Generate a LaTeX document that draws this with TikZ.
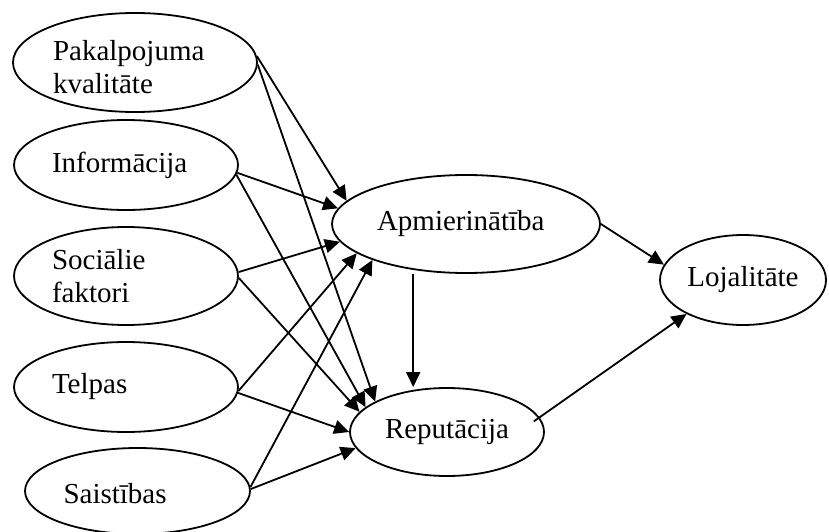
\documentclass[tikz,border=0pt]{standalone}
\usepackage{fontspec}
\setmainfont{Liberation Serif}
\usetikzlibrary{shapes.geometric,arrows.meta}
\begin{document}
\begin{tikzpicture}[x=1pt,y=1pt,
  every node/.style={font=\fontsize{29}{33}\selectfont},
  factor/.style={ellipse,draw,line width=1.8pt,inner sep=0pt},
  caption/.style={inner sep=0pt,align=left},
  link/.style={line width=1.8pt,-{Triangle[length=15pt,width=14pt]}}]
\useasboundingbox (0,0) rectangle (829,-532);

% source factors
\node[factor,minimum width=244pt,minimum height=99pt] (pak) at (135,-62.5) {};
\node[caption,text width=164pt] (pakt) at ([yshift=-5pt]pak.center) {Pakalpojuma\\kvalitāte};
\node[factor,minimum width=224pt,minimum height=90pt,text width=148pt,align=left] (inf) at (126,-165) {Informācija};
\node[factor,minimum width=224pt,minimum height=98pt,text width=148pt,align=left] (soc) at (126,-276) {Sociālie\\faktori};
\node[factor,minimum width=224pt,minimum height=90pt,text width=148pt,align=left] (tel) at (126,-387) {Telpas};
\node[factor,minimum width=225pt,minimum height=86pt] (sai) at (137.5,-491) {};
\node[caption,text width=148pt] (sait) at ([yshift=-3pt]sai.center) {Saistības};

% outcome constructs
\node[factor,minimum width=268pt,minimum height=98pt,text width=178pt,align=left] (apm) at (466,-224) {Apmierinātība};
\node[factor,minimum width=194pt,minimum height=88pt] (rep) at (447,-432) {Reputācija};
\node[factor,minimum width=166pt,minimum height=90pt] (loj) at (743,-280) {Lojalitāte};

% paths into Apmierinātība
\draw[link] (pak.3) -- (apm.169);
\draw[link] (inf.-4) -- (apm.173);
\draw[link] (soc.2) -- (apm.188);
\draw[link] (tel.-2) -- (apm.195);
\draw[link] (sai.2) -- (apm.201);

% paths into Reputācija
\draw[link] (pak.-1) -- (rep.157);
\draw[link] (inf.-5) -- (rep.163);
\draw[link] (soc.-1) -- (rep.167);
\draw[link] (tel.-3) -- (rep.180);
\draw[link] (sai.1) -- (rep.190);

% Apmierinātība -> Reputācija
\draw[link,shorten <=4pt] (apm.221) -- (apm.221 |- rep.north);

% paths into Lojalitāte
\draw[link] (apm.0) -- (loj.169);
\draw[link,shorten <=-7pt] (rep.9) -- (loj.211);
\end{tikzpicture}
\end{document}
